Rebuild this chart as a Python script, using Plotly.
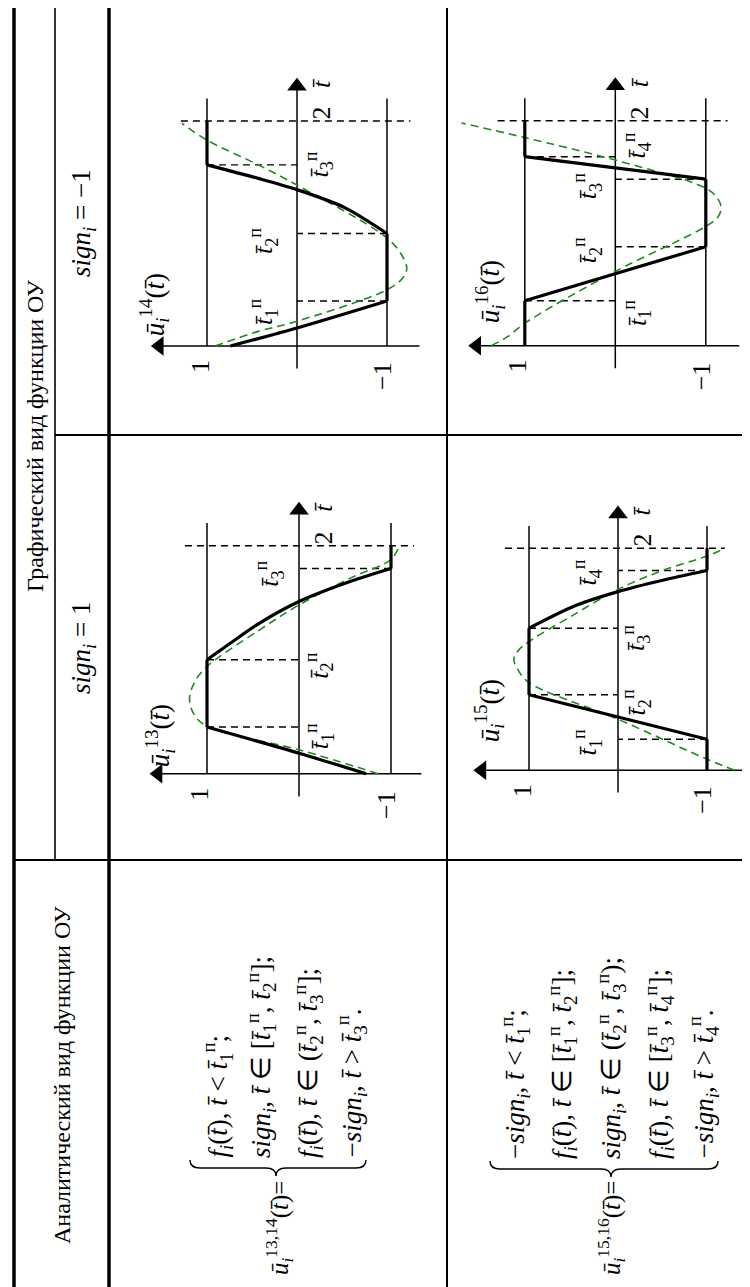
import plotly.graph_objects as go

W, H = 750, 1287
SERIF = "Liberation Serif"
TB = "t\u0304"

# ================= data =================
# u = control value (horizontal, pointing left), t = normalised time (vertical, pointing up)
u_levels = [1, -1]
level_top_t = 2.2
t_end = 2.0

p13_switch_t = [0.41, 1.00, 1.80]
p13_switch_side = [1, 1, -1]
p13_black_t = [0.00, 0.18, 0.41, 1.00, 1.16, 1.31, 1.51, 1.69, 1.80, 2.00]
p13_black_u = [-0.73, 0.00, 1.00, 1.00, 0.72, 0.45, 0.00, -0.57, -1.00, -1.00]
p13_green_t = [0.00, 0.21, 0.415, 0.52, 0.66, 0.81, 0.94, 1.25, 1.48, 1.72, 1.88, 2.00]
p13_green_u = [-0.86, 0.00, 1.00, 1.14, 1.19, 1.13, 1.00, 0.45, 0.00, -0.57, -1.00, -1.09]

p14_switch_t = [0.40, 1.00, 1.61]
p14_switch_side = [-1, -1, 1]
p14_black_t = [0.00, 0.16, 0.40, 1.00, 1.23, 1.39, 1.49, 1.61, 2.00]
p14_black_u = [0.74, 0.00, -1.00, -1.00, -0.53, 0.00, 0.43, 1.00, 1.00]
p14_green_t = [0.00, 0.13, 0.22, 0.50, 0.60, 0.69, 0.80, 0.96, 1.43, 1.61, 1.83, 1.98]
p14_green_u = [0.91, 0.43, 0.00, -1.00, -1.17, -1.22, -1.17, -1.00, 0.00, 0.43, 1.00, 1.28]

p15_switch_t = [0.28, 0.68, 1.28, 1.80]
p15_switch_side = [-1, 1, 1, -1]
p15_black_t = [0.00, 0.28, 0.68, 1.28, 1.48, 1.61, 1.71, 1.80, 2.00]
p15_black_u = [-1.00, -1.00, 1.00, 1.00, 0.49, 0.00, -0.49, -1.00, -1.00]
p15_green_t = [0.00, 0.10, 0.46, 0.79, 0.90, 1.00, 1.08, 1.16, 1.40, 1.63, 1.80, 1.93, 2.00]
p15_green_u = [-1.31, -1.00, 0.00, 1.00, 1.12, 1.17, 1.12, 1.00, 0.50, 0.00, -0.50, -1.00, -1.20]

p16_switch_t = [0.40, 0.88, 1.48, 1.68]
p16_switch_side = [1, -1, -1, 1]
p16_black_t = [0.00, 0.40, 0.88, 1.48, 1.68, 2.00]
p16_black_u = [1.00, 1.00, -1.00, -1.00, 1.00, 1.00]
p16_green_t = [0.00, 0.08, 0.20, 0.66, 1.06, 1.14, 1.22, 1.31, 1.40, 1.65, 1.85, 1.98]
p16_green_u = [1.37, 1.19, 1.00, 0.00, -1.00, -1.13, -1.17, -1.13, -1.00, 0.00, 1.00, 1.70]

# ================= layout / geometry (page pixels) =================
panels = [
    dict(name="13", x0=291, y0=765.7, sx=92, sy=114, box=(110, 435, 440, 848),
         sw=p13_switch_t, side=p13_switch_side, bt=p13_black_t, bu=p13_black_u,
         gt=p13_green_t, gu=p13_green_u, t2ext=(1.24, -1.25), umin=-1.33,
         swlab=[(-0.22, 0.33), (-0.22, 0.95), (0.32, 1.75)], ulab=(1.51, 0.33)),
    dict(name="14", x0=289, y0=338, sx=90, sy=112.5, box=(110, 435, 20, 420),
         sw=p14_switch_t, side=p14_switch_side, bt=p14_black_t, bu=p14_black_u,
         gt=p14_green_t, gu=p14_green_u, t2ext=(1.29, -1.26), umin=-1.36,
         swlab=[(0.37, 0.30), (0.37, 0.93), (-0.24, 1.61)], ulab=(1.58, 0.37)),
    dict(name="15", x0=610, y0=762.3, sx=89, sy=111, box=(443, 748, 440, 848),
         sw=p15_switch_t, side=p15_switch_side, bt=p15_black_t, bu=p15_black_u,
         gt=p15_green_t, gu=p15_green_u, t2ext=(1.27, -1.20), umin=-1.40,
         swlab=[(0.35, 0.25), (-0.20, 0.61), (-0.20, 1.19), (0.35, 1.78)], ulab=(1.44, 0.54)),
    dict(name="16", x0=607.3, y0=337.7, sx=90.5, sy=112.5, box=(443, 748, 20, 420),
         sw=p16_switch_t, side=p16_switch_side, bt=p16_black_t, bu=p16_black_u,
         gt=p16_green_t, gu=p16_green_u, t2ext=(1.30, -1.24), umin=-1.37,
         swlab=[(-0.24, 0.29), (0.31, 0.85), (0.31, 1.42), (-0.24, 1.78)], ulab=(1.39, 0.48)),
]

T_TIP, U_TIP = 2.39, 1.63
GREEN = "#1f8a1f"


def PX(x):
    return x / W


def PY(y):
    return 1 - y / H


def tlab(k):
    return f"<i>{TB}</i><sub>{k}</sub><sup>п</sup>"


fig = go.Figure()
annotations = []
layout_axes = {}

for i, p in enumerate(panels):
    sfx = "" if i == 0 else str(i + 1)
    xa, ya = "x" + sfx, "y" + sfx
    L, R, T, B = p["box"]
    layout_axes["xaxis" + sfx] = dict(domain=[PX(L), PX(R)], range=[(p["x0"] - L) / p["sx"], (p["x0"] - R) / p["sx"]],
                                      visible=False, anchor=ya, fixedrange=True)
    layout_axes["yaxis" + sfx] = dict(domain=[PY(B), PY(T)], range=[(p["y0"] - B) / p["sy"], (p["y0"] - T) / p["sy"]],
                                      visible=False, anchor=xa, fixedrange=True)
    thin = dict(color="black", width=1.5)
    # u = +-1 levels
    lx, ly = [], []
    for lev in u_levels:
        lx += [lev, lev, None]
        ly += [0, level_top_t, None]
    fig.add_trace(go.Scatter(x=lx, y=ly, mode="lines", line=thin, xaxis=xa, yaxis=ya, hoverinfo="skip"))
    # axes
    fig.add_trace(go.Scatter(x=[0, 0, None, p["umin"], U_TIP - 4 / p["sx"]],
                             y=[-0.2, T_TIP - 4 / p["sy"], None, 0, 0], mode="lines", line=thin,
                             xaxis=xa, yaxis=ya, hoverinfo="skip"))
    fig.add_trace(go.Scatter(x=[0], y=[T_TIP - 9 / p["sy"]], mode="markers",
                             marker=dict(symbol="triangle-up", size=17, color="black"), xaxis=xa, yaxis=ya, hoverinfo="skip"))
    fig.add_trace(go.Scatter(x=[U_TIP - 9 / p["sx"]], y=[0], mode="markers",
                             marker=dict(symbol="triangle-left", size=17, color="black"), xaxis=xa, yaxis=ya, hoverinfo="skip"))
    # dashed reference lines
    dx, dy = [p["t2ext"][0], p["t2ext"][1], None], [t_end, t_end, None]
    for tk, s in zip(p["sw"], p["side"]):
        dx += [s, 0, None]
        dy += [tk, tk, None]
    fig.add_trace(go.Scatter(x=dx, y=dy, mode="lines", line=dict(color="black", width=1.4, dash="7px,5px"),
                             xaxis=xa, yaxis=ya, hoverinfo="skip"))
    # green approximating curve
    fig.add_trace(go.Scatter(x=p["gu"], y=p["gt"], mode="lines",
                             line=dict(color=GREEN, width=1.6, dash="8px,5px", shape="spline", smoothing=1.0),
                             xaxis=xa, yaxis=ya, hoverinfo="skip"))
    # black control, drawn piece by piece between switching instants
    cuts = [0.0] + list(p["sw"]) + [t_end]
    for a, b in zip(cuts[:-1], cuts[1:]):
        seg = [(u, t) for u, t in zip(p["bu"], p["bt"]) if a - 1e-9 <= t <= b + 1e-9]
        fig.add_trace(go.Scatter(x=[s[0] for s in seg], y=[s[1] for s in seg], mode="lines",
                                 line=dict(color="black", width=3.2, shape="spline", smoothing=0.8),
                                 xaxis=xa, yaxis=ya, hoverinfo="skip"))

    f = dict(family=SERIF, size=26, color="black")
    for k, (lu, lt) in enumerate(p["swlab"]):
        annotations.append(dict(x=lu, y=lt, xref=xa, yref=ya, text=tlab(k + 1), showarrow=False,
                                textangle=-90, font=f))
    annotations.append(dict(x=p["ulab"][0], y=p["ulab"][1], xref=xa, yref=ya,
                            text=f"<i>ū</i><sub><i>i</i></sub><sup>{p['name']}</sup>(<i>{TB}</i>)",
                            showarrow=False, textangle=-90, font=dict(family=SERIF, size=27, color="black")))
    annotations.append(dict(x=-0.27, y=2.07, xref=xa, yref=ya, text="2", showarrow=False, textangle=-90, font=f))
    annotations.append(dict(x=-0.27, y=2.34, xref=xa, yref=ya, text=f"<i>{TB}</i>", showarrow=False,
                            textangle=-90, font=f))
    annotations.append(dict(x=1.08, y=-0.18, xref=xa, yref=ya, text="1", showarrow=False, textangle=-90, font=f))
    annotations.append(dict(x=-0.95, y=-0.27, xref=xa, yref=ya, text="−1", showarrow=False, textangle=-90, font=f))

# ---------------- table grid ----------------
shapes = []


def hline(y, x1, x2, w):
    shapes.append(dict(type="line", xref="paper", yref="paper", x0=PX(x1), x1=PX(x2), y0=PY(y), y1=PY(y),
                       line=dict(color="black", width=w)))


def vline(x, y1, y2, w):
    shapes.append(dict(type="line", xref="paper", yref="paper", x0=PX(x), x1=PX(x), y0=PY(y1), y1=PY(y2),
                       line=dict(color="black", width=w)))


vline(6, 0, H, 3.5)
vline(101, 0, H, 3.5)
vline(47, 0, 852, 1.6)
vline(439, 0, H, 2)
hline(427, 47, W, 2)
hline(852, 6, W, 2)


def brace(xa, xb, xm, yend, ybar, ytip):
    pts = [("M", xa, yend), ("Q", xa, ybar, xa + 10, ybar), ("L", xm - 10, ybar), ("Q", xm, ybar, xm, ytip),
           ("Q", xm, ybar, xm + 10, ybar), ("L", xb - 10, ybar), ("Q", xb, ybar, xb, yend)]
    s = ""
    for item in pts:
        c = item[0]
        coords = item[1:]
        s += c + " " + " ".join(f"{PX(coords[j]):.5f},{PY(coords[j + 1]):.5f}" for j in range(0, len(coords), 2)) + " "
    shapes.append(dict(type="path", xref="paper", yref="paper", path=s.strip(), line=dict(color="black", width=1.4)))


brace(182, 358, 268, 1152, 1160, 1168)
brace(482, 710, 603, 1153, 1161, 1169)

# ---------------- header & equation text ----------------
hf = dict(family=SERIF, size=24, color="black")
ef = dict(family=SERIF, size=27, color="black")
nf = dict(family=SERIF, size=25, color="black")


def ptext(x, y, text, font, xanchor="center", yanchor="middle"):
    annotations.append(dict(x=PX(x), y=PY(y), xref="paper", yref="paper", text=text, showarrow=False,
                            textangle=-90, font=font, xanchor=xanchor, yanchor=yanchor))


ptext(27, 428, "Графический вид функции ОУ", hf)
ptext(54, 1067, "Аналитический вид функции ОУ", hf)
ptext(75, 640, "<i>sign</i><sub><i>i</i></sub> = 1", dict(family=SERIF, size=27, color="black"))
ptext(75, 215, "<i>sign</i><sub><i>i</i></sub> = −1", dict(family=SERIF, size=27, color="black"))

fi = f"<i>f</i><sub><i>i</i></sub>(<i>{TB}</i>)"
sg = "<i>sign</i><sub><i>i</i></sub>"
tt = f"<i>{TB}</i>"
eq1 = [f"{fi}, {tt} &lt; {tlab(1)};",
       f"{sg}, {tt} ∈ [{tlab(1)}, {tlab(2)}];",
       f"{fi}, {tt} ∈ ({tlab(2)}, {tlab(3)}];",
       f"−{sg}, {tt} &gt; {tlab(3)}."]
eq1_x = [209, 253, 300, 343]
eq2 = [f"−{sg}, {tt} &lt; {tlab(1)};",
       f"{fi}, {tt} ∈ [{tlab(1)}, {tlab(2)}];",
       f"{sg}, {tt} ∈ ({tlab(2)}, {tlab(3)});",
       f"{fi}, {tt} ∈ [{tlab(3)}, {tlab(4)}];",
       f"−{sg}, {tt} &gt; {tlab(4)}."]
eq2_x = [507, 554, 603, 651, 695]
for txt, x in zip(eq1, eq1_x):
    ptext(x, 1152, txt, ef, yanchor="bottom")
for txt, x in zip(eq2, eq2_x):
    ptext(x, 1153, txt, ef, yanchor="bottom")
ptext(271, 1171, f"<i>ū</i><sub><i>i</i></sub><sup>13,14</sup>(<i>{TB}</i>)=", nf, yanchor="top")
ptext(603, 1171, f"<i>ū</i><sub><i>i</i></sub><sup>15,16</sup>(<i>{TB}</i>)=", nf, yanchor="top")

fig.update_layout(width=W, height=H, autosize=False, margin=dict(l=0, r=0, t=0, b=0),
                  paper_bgcolor="white", plot_bgcolor="rgba(0,0,0,0)", showlegend=False,
                  shapes=shapes, annotations=annotations, **layout_axes)
fig.write_html("out.html")
